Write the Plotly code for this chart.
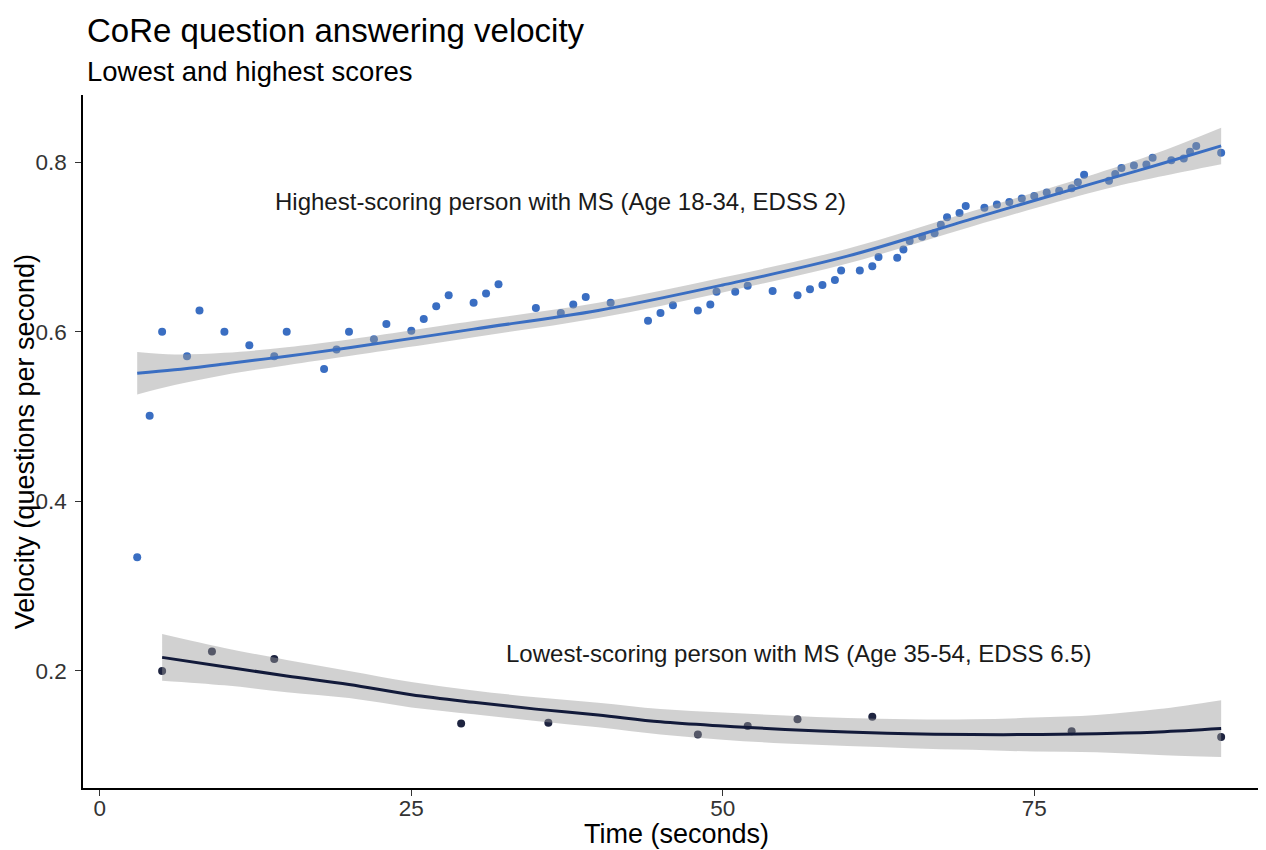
import plotly.graph_objects as go

# ---- data ----
high_time = [3, 4, 5, 7, 8, 10, 12, 14, 15, 18, 19, 20, 22, 23, 25, 26, 27, 28, 30, 31,
             32, 35, 37, 38, 39, 41, 44, 45, 46, 48, 49, 49.5, 51, 52, 54, 56, 57, 58, 59, 59.5,
             61, 62, 62.5, 64, 64.5, 65, 66, 67, 67.5, 68, 69, 69.5, 71, 72, 73, 74, 75, 76, 77, 78,
             78.5, 79, 81, 81.5, 82, 83, 84, 84.5, 86, 87, 87.5, 88, 90]
high_vel = [0.334, 0.501, 0.600, 0.571, 0.625, 0.600, 0.584, 0.571, 0.600, 0.556, 0.579, 0.600, 0.591, 0.609, 0.601, 0.615, 0.630, 0.643, 0.634, 0.645,
            0.656, 0.628, 0.622, 0.632, 0.641, 0.634, 0.613, 0.622, 0.631, 0.625, 0.632, 0.647, 0.647, 0.654, 0.648, 0.643, 0.650, 0.655, 0.661, 0.672,
            0.672, 0.677, 0.688, 0.687, 0.697, 0.707, 0.712, 0.716, 0.726, 0.735, 0.740, 0.748, 0.746, 0.750, 0.753, 0.757, 0.760, 0.764, 0.766, 0.769,
            0.776, 0.785, 0.778, 0.786, 0.793, 0.796, 0.797, 0.805, 0.802, 0.804, 0.812, 0.819, 0.811]

low_time = [5, 9, 14, 29, 36, 48, 52, 56, 62, 78, 90]
low_vel = [0.200, 0.223, 0.214, 0.138, 0.139, 0.125, 0.135, 0.143, 0.146, 0.129, 0.122]

# smoothed trend (loess) and its confidence band
high_fit_x = [3, 6, 10, 15, 20, 30, 40, 50, 60, 70, 80, 85, 90]
high_fit = [0.551, 0.555, 0.562, 0.571, 0.581, 0.603, 0.625, 0.655, 0.689, 0.733, 0.776, 0.797, 0.819]
high_lo = [0.526, 0.537, 0.549, 0.5605, 0.5713, 0.5935, 0.616, 0.6463, 0.6803, 0.724, 0.7655, 0.7825, 0.7975]
high_hi = [0.576, 0.573, 0.575, 0.5815, 0.5907, 0.6125, 0.634, 0.6637, 0.6977, 0.742, 0.7865, 0.8115, 0.8405]

low_fit_x = [5, 10, 15, 20, 25, 30, 35, 40, 45, 50, 55, 60, 65, 70, 75, 80, 85, 90]
low_fit = [0.216, 0.205, 0.194, 0.184, 0.172, 0.163, 0.155, 0.148, 0.140, 0.135, 0.131, 0.128, 0.126, 0.125, 0.125, 0.126, 0.128, 0.132]
low_lo = [0.1885, 0.183, 0.175, 0.168, 0.157, 0.149, 0.141, 0.1335, 0.125, 0.119, 0.1145, 0.1115, 0.109, 0.107, 0.105, 0.104, 0.101, 0.0985]
low_hi = [0.2435, 0.227, 0.213, 0.200, 0.187, 0.177, 0.169, 0.1625, 0.155, 0.151, 0.1475, 0.1445, 0.143, 0.143, 0.145, 0.148, 0.155, 0.1655]

x_ticks = [0, 25, 50, 75]
y_ticks = [0.2, 0.4, 0.6, 0.8]
y_tick_labels = ["0.2", "0.4", "0.6", "0.8"]

title = "CoRe question answering velocity"
subtitle = "Lowest and highest scores"
x_title = "Time (seconds)"
y_title = "Velocity (questions per second)"
high_label = "Highest-scoring person with MS (Age 18-34, EDSS 2)"
low_label = "Lowest-scoring person with MS (Age 35-54, EDSS 6.5)"

# ---- styling ----
FONT = "Liberation Sans, Arial, Helvetica, sans-serif"
BLUE = "#3a6ec2"
NAVY = "#121a3a"
NAVY_PT = "#1e2440"
RIBBON = "rgba(153,153,153,0.45)"

fig = go.Figure()

# points first (ribbon drawn over them, like ggplot)
fig.add_trace(go.Scatter(x=high_time, y=high_vel, mode="markers",
                         marker=dict(color=BLUE, size=8), showlegend=False, hoverinfo="x+y"))
fig.add_trace(go.Scatter(x=low_time, y=low_vel, mode="markers",
                         marker=dict(color=NAVY_PT, size=8), showlegend=False, hoverinfo="x+y"))

# ribbons
for fx, lo, hi in [(high_fit_x, high_lo, high_hi), (low_fit_x, low_lo, low_hi)]:
    fig.add_trace(go.Scatter(x=fx, y=lo, mode="lines", line=dict(width=0, shape="spline"),
                             showlegend=False, hoverinfo="skip"))
    fig.add_trace(go.Scatter(x=fx, y=hi, mode="lines", line=dict(width=0, shape="spline"),
                             fill="tonexty", fillcolor=RIBBON, showlegend=False, hoverinfo="skip"))

# trend lines
fig.add_trace(go.Scatter(x=high_fit_x, y=high_fit, mode="lines",
                         line=dict(color=BLUE, width=3, shape="spline"), showlegend=False))
fig.add_trace(go.Scatter(x=low_fit_x, y=low_fit, mode="lines",
                         line=dict(color=NAVY, width=3, shape="spline"), showlegend=False))

annotations = [
    dict(text=high_label, x=37, y=0.753, xref="x", yref="y", showarrow=False,
         font=dict(family=FONT, size=24, color="#1a1a1a")),
    dict(text=low_label, x=56.1, y=0.221, xref="x", yref="y", showarrow=False,
         font=dict(family=FONT, size=24, color="#1a1a1a")),
    dict(text=title, x=0.0015, y=1.0924, xref="paper", yref="paper", xanchor="left", yanchor="middle",
         showarrow=False, font=dict(family=FONT, size=33, color="#000000")),
    dict(text=subtitle, x=0.0015, y=1.0346, xref="paper", yref="paper", xanchor="left", yanchor="middle",
         showarrow=False, font=dict(family=FONT, size=27.5, color="#000000")),
    dict(text=x_title, x=0.502, y=-0.0665, xref="paper", yref="paper", xanchor="center", yanchor="middle",
         showarrow=False, font=dict(family=FONT, size=27, color="#000000")),
    dict(text=y_title, x=-0.0493, y=0.5, xref="paper", yref="paper", xanchor="center", yanchor="middle",
         textangle=-90, showarrow=False, font=dict(family=FONT, size=27, color="#000000")),
]

# the page adds an 8px body margin, so the figure is sized to end at the window edge
fig.update_layout(
    width=1258, height=842,
    margin=dict(l=75, r=0, t=87, b=62, autoexpand=False),
    paper_bgcolor="white", plot_bgcolor="white",
    font=dict(family=FONT, color="#000000"),
    annotations=annotations,
    xaxis=dict(range=[-1.35, 93.6], tickvals=x_ticks, ticks="outside", ticklen=6, tickwidth=1.2,
               tickcolor="#333333", showline=True, linecolor="#000000", linewidth=1.5,
               showgrid=False, zeroline=False, automargin=False, ticklabelstandoff=-7,
               tickfont=dict(family=FONT, size=22.5, color="#333333")),
    yaxis=dict(range=[0.062, 0.879], tickvals=y_ticks, ticktext=y_tick_labels, ticks="outside", ticklen=6,
               tickwidth=1.2, tickcolor="#333333", showline=True, linecolor="#000000", linewidth=1.5,
               showgrid=False, zeroline=False, automargin=False, ticklabelstandoff=4,
               tickfont=dict(family=FONT, size=22.5, color="#333333")),
)

fig.write_html("out.html")
